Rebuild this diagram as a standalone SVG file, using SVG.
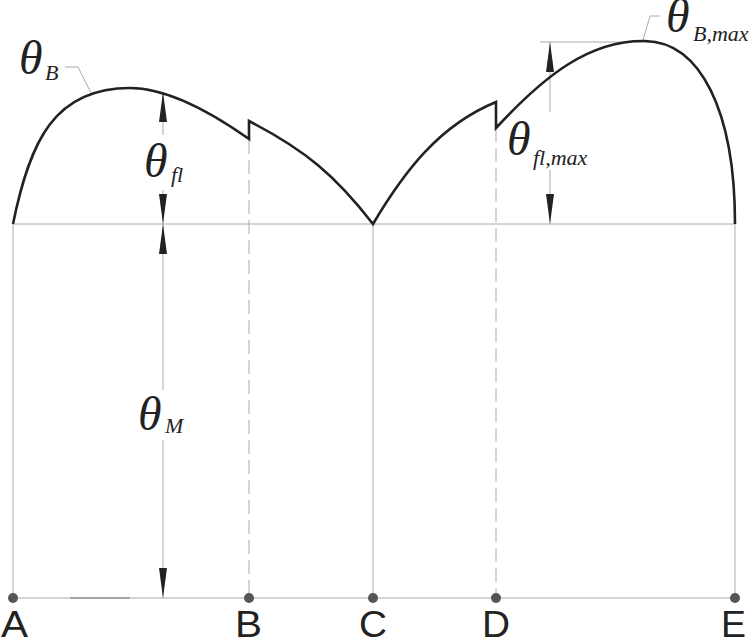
<svg xmlns="http://www.w3.org/2000/svg" width="752" height="644" viewBox="0 0 752 644">
<style>
.g{stroke:#aaa;stroke-width:1;fill:none}
.d{stroke:#aaa;stroke-width:1;fill:none;stroke-dasharray:14 6}
.c{stroke:#222;stroke-width:2.6;fill:none;stroke-linejoin:miter}
.th{font-family:"Liberation Serif",serif;font-style:italic;fill:#222}
.lb{font-family:"Liberation Sans",sans-serif;font-size:36px;fill:#222}
</style>
<defs>
<marker id="ar" viewBox="0 0 30 10" refX="30" refY="5" markerWidth="30" markerHeight="10" markerUnits="userSpaceOnUse" orient="auto-start-reverse"><path d="M30,5 L0,1 L0,9 Z" fill="#222"/></marker>
</defs>
<g id="connectors">
<line class="g" x1="13" y1="224" x2="735" y2="224"/>
<line class="g" x1="13" y1="598" x2="735" y2="598"/>
<line stroke="#777" stroke-width="1.2" x1="70" y1="598" x2="130" y2="598"/>
<line class="g" x1="13" y1="224" x2="13" y2="598"/>
<line class="d" x1="249" y1="140" x2="249" y2="598"/>
<line class="g" x1="373" y1="224" x2="373" y2="598"/>
<line class="d" x1="496" y1="128" x2="496" y2="598"/>
<line class="g" x1="735" y1="224" x2="735" y2="598"/>
<line class="g" x1="540" y1="42" x2="650" y2="42"/>
<line class="g" x1="163" y1="92" x2="163" y2="135" marker-start="url(#ar)"/>
<line class="g" x1="163" y1="190" x2="163" y2="224" marker-end="url(#ar)"/>
<line class="g" x1="163" y1="224" x2="163" y2="390" marker-start="url(#ar)"/>
<line class="g" x1="163" y1="440" x2="163" y2="598" marker-end="url(#ar)"/>
<line class="g" x1="550" y1="42" x2="550" y2="112" marker-start="url(#ar)"/>
<line class="g" x1="550" y1="170" x2="550" y2="224" marker-end="url(#ar)"/>
<polyline class="g" points="65,67 78,67 91,93"/>
<polyline class="g" points="660,16 650,16 643,40"/>
</g>
<g id="curve">
<path class="c" d="M13,224 C30,140 55,88 130,88 C170,88 215,115 249,139 L249,121 C305,150 335,175 373,224 C405,170 440,125 496,102 L496,128 C545,75 590,40 645,41 C700,42 735,110 735,224"/>
</g>
<g id="points" fill="#555">
<circle cx="13" cy="598" r="5"/><circle cx="249" cy="598" r="5"/><circle cx="373" cy="598" r="5"/><circle cx="496" cy="598" r="5"/><circle cx="735" cy="598" r="5"/>
</g>
<g id="labels">
<text class="lb" x="1" y="637" textLength="27" lengthAdjust="spacingAndGlyphs">A</text>
<text class="lb" x="235" y="637" textLength="27" lengthAdjust="spacingAndGlyphs">B</text>
<text class="lb" x="359" y="637" textLength="28" lengthAdjust="spacingAndGlyphs">C</text>
<text class="lb" x="482" y="637" textLength="28" lengthAdjust="spacingAndGlyphs">D</text>
<text class="lb" x="721" y="637" textLength="25" lengthAdjust="spacingAndGlyphs">E</text>
<text class="th" x="19" y="74" font-size="48">θ</text><text class="th" x="45" y="80" font-size="22">B</text>
<text class="th" x="144" y="177" font-size="48">θ</text><text class="th" x="171" y="182" font-size="22">fl</text>
<text class="th" x="138" y="430" font-size="48">θ</text><text class="th" x="165" y="433" font-size="22">M</text>
<text class="th" x="507" y="155" font-size="48">θ</text><text class="th" x="533" y="165" font-size="22">fl,max</text>
<text class="th" x="666" y="32" font-size="48">θ</text><text class="th" x="693" y="41" font-size="22">B,max</text>
</g>
</svg>
